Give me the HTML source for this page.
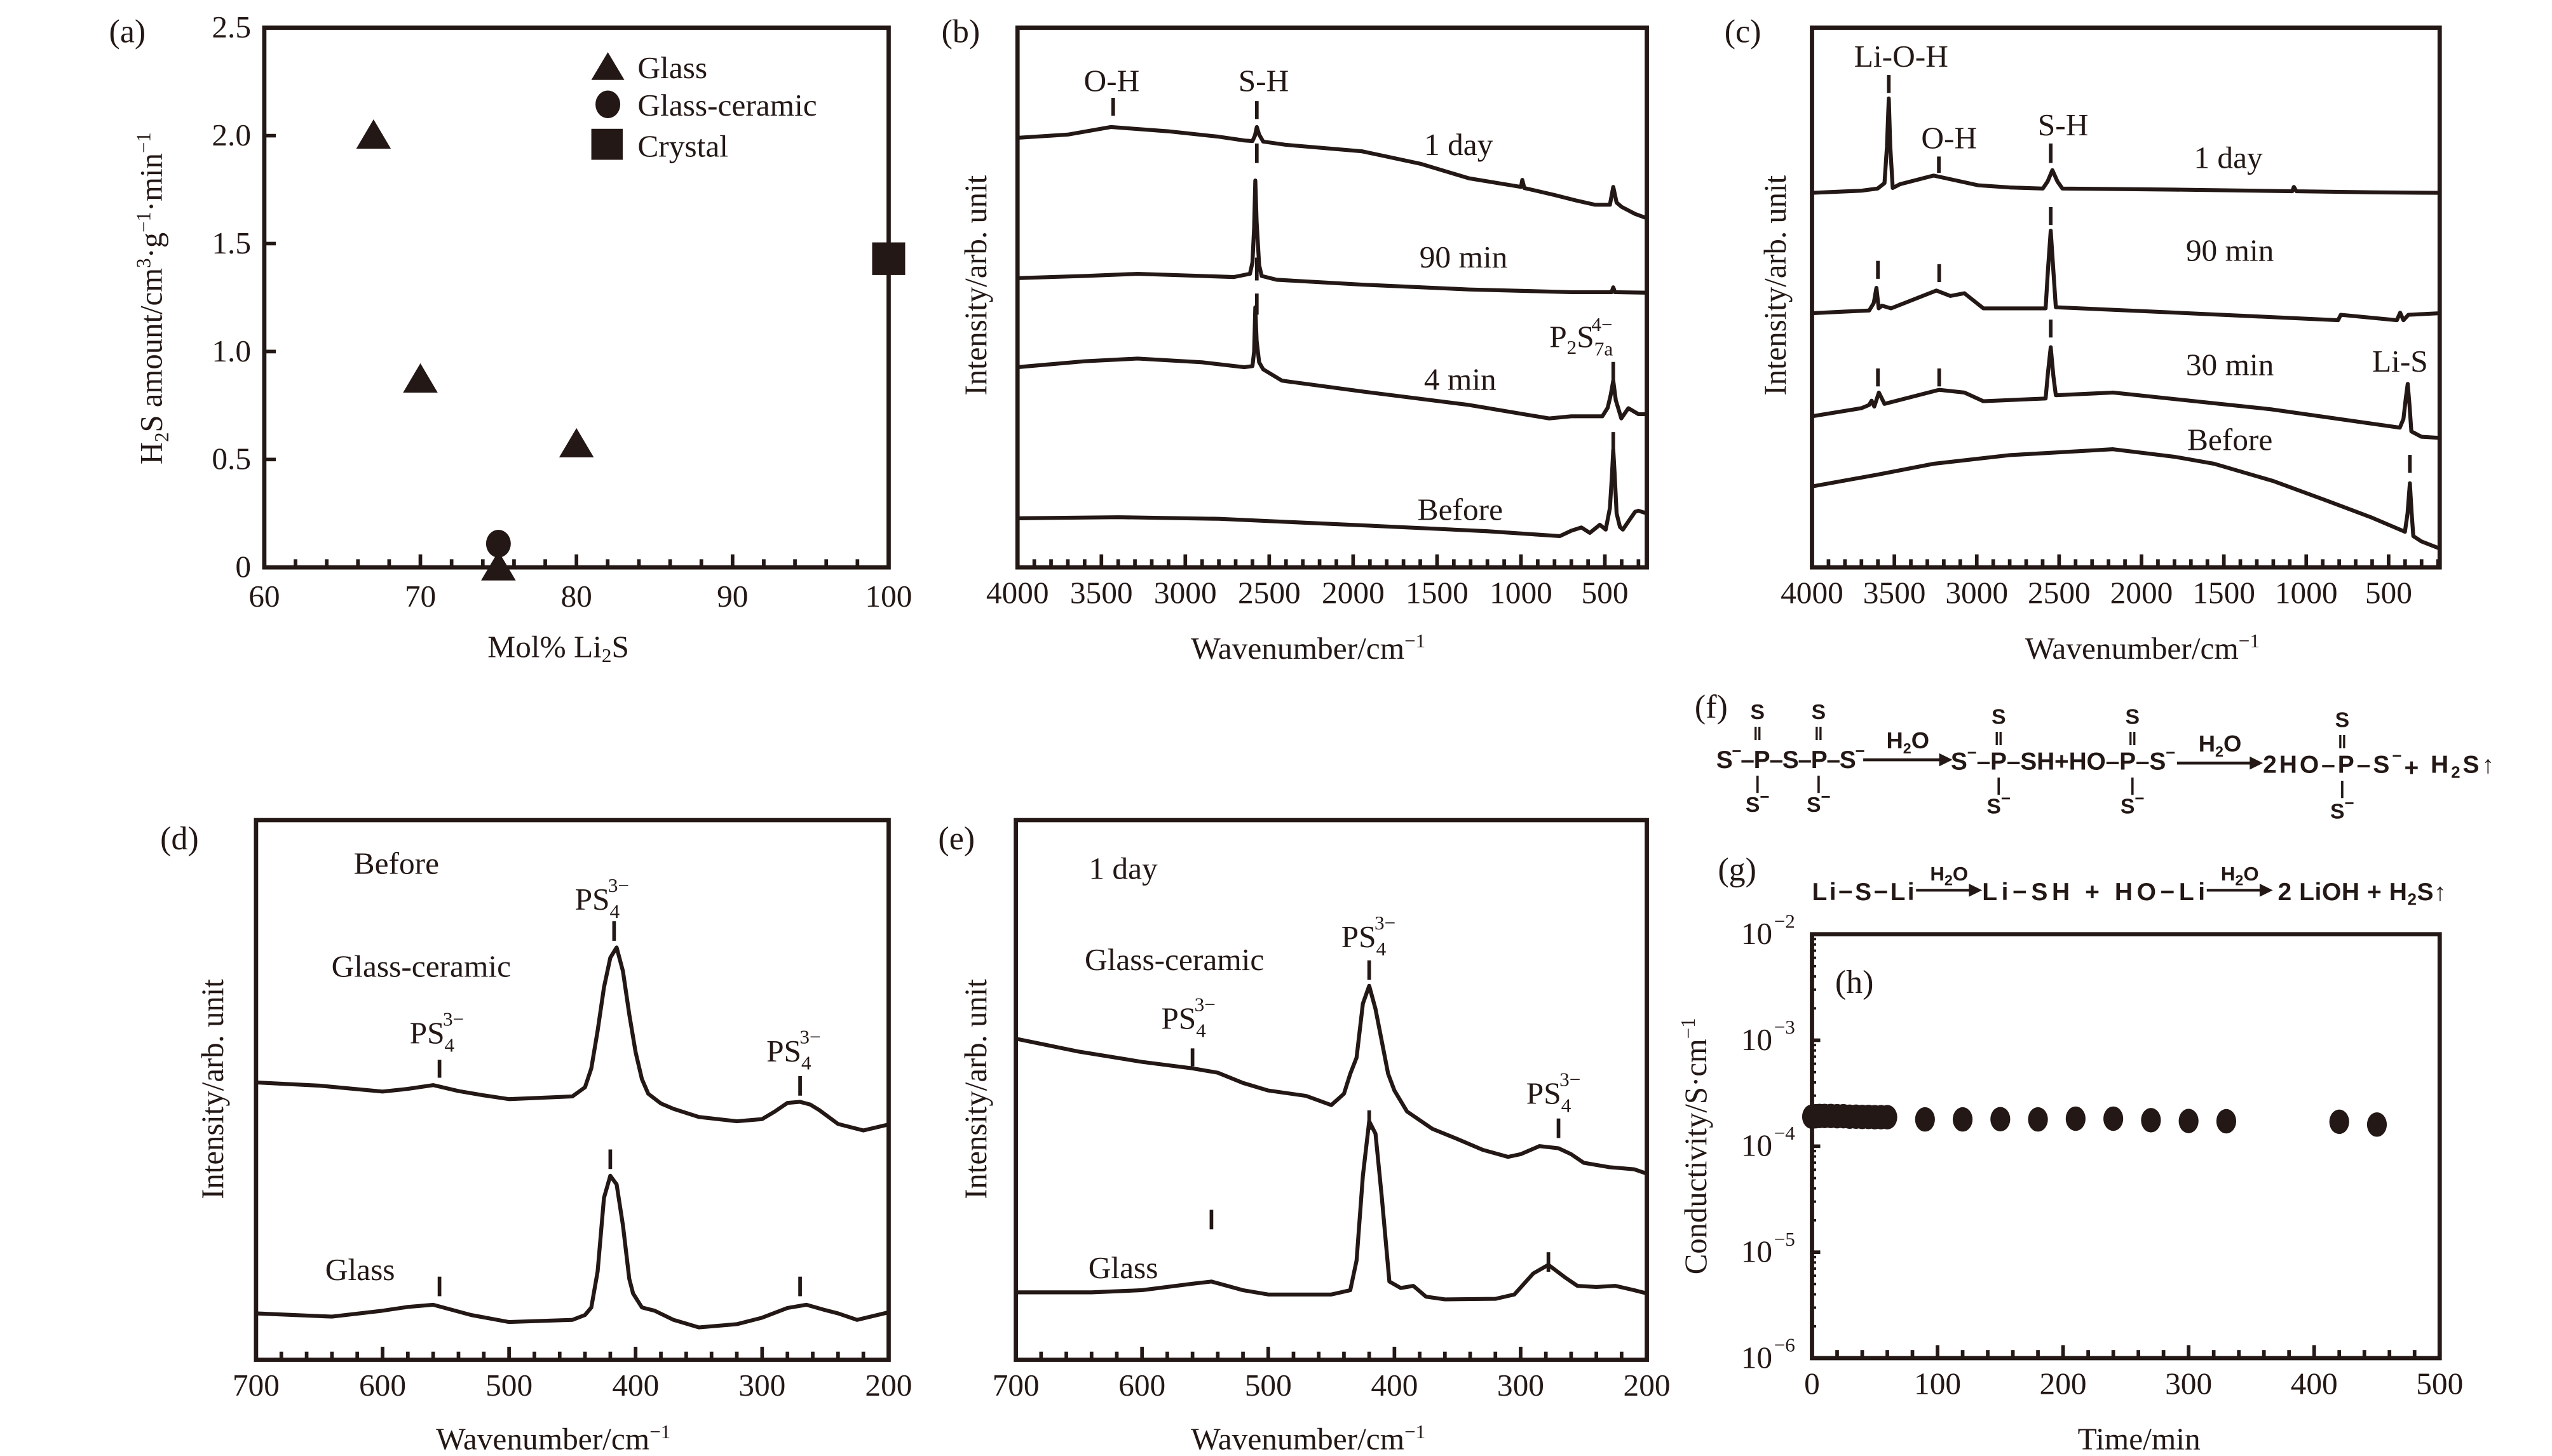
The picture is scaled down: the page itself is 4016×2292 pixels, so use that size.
<!DOCTYPE html>
<html><head><meta charset="utf-8">
<style>
html,body{margin:0;padding:0;background:#fff;}
svg{display:block;}
text{font-family:"Liberation Serif","DejaVu Serif",serif;fill:#231815;}
.sans{font-family:"Liberation Sans","DejaVu Sans",sans-serif;font-weight:bold;}
</style></head>
<body>
<svg id="fig" width="4016" height="2292" viewBox="0 0 1545 893" preserveAspectRatio="none" xmlns="http://www.w3.org/2000/svg">
<g id="root"></g>

<g font-size="19">
<text x="66" y="26" font-size="20">(a)</text>
<text transform="translate(98,183) rotate(-90)" text-anchor="middle">H<tspan font-size="12" dy="4">2</tspan><tspan dy="-4">S amount/cm</tspan><tspan font-size="12" dy="-7">3</tspan><tspan dy="7">·g</tspan><tspan font-size="12" dy="-7">−1</tspan><tspan dy="7">·min</tspan><tspan font-size="12" dy="-7">−1</tspan></text>
<text x="338" y="403" text-anchor="middle">Mol% Li<tspan font-size="12" dy="3">2</tspan><tspan dy="-3">S</tspan></text>
<text x="386" y="48">Glass</text>
<text x="386" y="71">Glass-ceramic</text>
<text x="386" y="96">Crystal</text>
</g>

<g font-size="19">
<text x="570" y="26" font-size="20">(b)</text>
<text transform="translate(597,175) rotate(-90)" text-anchor="middle">Intensity/arb. unit</text>
<text x="792" y="404" text-anchor="middle">Wavenumber/cm<tspan font-size="12" dy="-7">−1</tspan></text>
<text x="673" y="56" text-anchor="middle">O-H</text>
<text x="765" y="56" text-anchor="middle">S-H</text>
<text x="883" y="95" text-anchor="middle">1 day</text>
<text x="886" y="164" text-anchor="middle">90 min</text>
<text x="884" y="239" text-anchor="middle">4 min</text>
<text x="884" y="319" text-anchor="middle">Before</text>
<text x="938" y="213">P<tspan font-size="12" dy="4">2</tspan><tspan dy="-4">S</tspan><tspan font-size="12" dy="5">7a</tspan><tspan font-size="12" dx="-13" dy="-15">4−</tspan></text>
</g>

<g font-size="19">
<text x="1044" y="26" font-size="20">(c)</text>
<text transform="translate(1081,175) rotate(-90)" text-anchor="middle">Intensity/arb. unit</text>
<text x="1297" y="404" text-anchor="middle">Wavenumber/cm<tspan font-size="12" dy="-7">−1</tspan></text>
<text x="1151" y="41" text-anchor="middle">Li-O-H</text>
<text x="1180" y="91" text-anchor="middle">O-H</text>
<text x="1249" y="83" text-anchor="middle">S-H</text>
<text x="1349" y="103" text-anchor="middle">1 day</text>
<text x="1350" y="160" text-anchor="middle">90 min</text>
<text x="1350" y="230" text-anchor="middle">30 min</text>
<text x="1453" y="228" text-anchor="middle">Li-S</text>
<text x="1350" y="276" text-anchor="middle">Before</text>
</g>

<g font-size="19">
<text x="97" y="521" font-size="20">(d)</text>
<text transform="translate(135,668) rotate(-90)" text-anchor="middle">Intensity/arb. unit</text>
<text x="335" y="889" text-anchor="middle">Wavenumber/cm<tspan font-size="12" dy="-7">−1</tspan></text>
<text x="240" y="536" text-anchor="middle">Before</text>
<text x="255" y="599" text-anchor="middle">Glass-ceramic</text>
<text x="218" y="785" text-anchor="middle">Glass</text>
<text x="348" y="558">PS<tspan font-size="12" dy="5">4</tspan><tspan font-size="12" dx="-7" dy="-16">3−</tspan></text>
<text x="248" y="640">PS<tspan font-size="12" dy="5">4</tspan><tspan font-size="12" dx="-7" dy="-16">3−</tspan></text>
<text x="464" y="651">PS<tspan font-size="12" dy="5">4</tspan><tspan font-size="12" dx="-7" dy="-16">3−</tspan></text>
</g>

<g font-size="19">
<text x="568" y="521" font-size="20">(e)</text>
<text transform="translate(597,668) rotate(-90)" text-anchor="middle">Intensity/arb. unit</text>
<text x="792" y="889" text-anchor="middle">Wavenumber/cm<tspan font-size="12" dy="-7">−1</tspan></text>
<text x="680" y="539" text-anchor="middle">1 day</text>
<text x="711" y="595" text-anchor="middle">Glass-ceramic</text>
<text x="680" y="784" text-anchor="middle">Glass</text>
<text x="812" y="581">PS<tspan font-size="12" dy="5">4</tspan><tspan font-size="12" dx="-7" dy="-16">3−</tspan></text>
<text x="703" y="631">PS<tspan font-size="12" dy="5">4</tspan><tspan font-size="12" dx="-7" dy="-16">3−</tspan></text>
<text x="924" y="677">PS<tspan font-size="12" dy="5">4</tspan><tspan font-size="12" dx="-7" dy="-16">3−</tspan></text>
</g>

<g>
<text x="1026" y="440" font-size="20">(f)</text>
<text x="1064" y="441" text-anchor="middle" class="sans" font-size="13">S</text>
<text x="1101" y="441" text-anchor="middle" class="sans" font-size="13">S</text>
<text x="1064" y="454" text-anchor="middle" class="sans" font-size="11">‖</text>
<text x="1101" y="454" text-anchor="middle" class="sans" font-size="11">‖</text>
<text x="1039" y="471" class="sans" font-size="15" textLength="90">S<tspan font-size="10" dy="-7">−</tspan><tspan dy="7">–P–S–P–S</tspan><tspan font-size="10" dy="-7">−</tspan></text>
<text x="1064" y="484" text-anchor="middle" class="sans" font-size="11">|</text>
<text x="1101" y="484" text-anchor="middle" class="sans" font-size="11">|</text>
<text x="1064" y="498" text-anchor="middle" class="sans" font-size="13">S<tspan font-size="10" dy="-6">−</tspan></text>
<text x="1101" y="498" text-anchor="middle" class="sans" font-size="13">S<tspan font-size="10" dy="-6">−</tspan></text>
<text x="1155" y="459" text-anchor="middle" class="sans" font-size="14">H<tspan font-size="9" dy="3">2</tspan><tspan dy="-3">O</tspan></text>
<text x="1210" y="444" text-anchor="middle" class="sans" font-size="13">S</text>
<text x="1291" y="444" text-anchor="middle" class="sans" font-size="13">S</text>
<text x="1210" y="457" text-anchor="middle" class="sans" font-size="11">‖</text>
<text x="1291" y="457" text-anchor="middle" class="sans" font-size="11">‖</text>
<text x="1181" y="472" class="sans" font-size="15" textLength="136">S<tspan font-size="10" dy="-7">−</tspan><tspan dy="7">–P–SH+HO–P–S</tspan><tspan font-size="10" dy="-7">−</tspan></text>
<text x="1210" y="485" text-anchor="middle" class="sans" font-size="11">|</text>
<text x="1291" y="485" text-anchor="middle" class="sans" font-size="11">|</text>
<text x="1210" y="499" text-anchor="middle" class="sans" font-size="13">S<tspan font-size="10" dy="-6">−</tspan></text>
<text x="1291" y="499" text-anchor="middle" class="sans" font-size="13">S<tspan font-size="10" dy="-6">−</tspan></text>
<text x="1344" y="461" text-anchor="middle" class="sans" font-size="14">H<tspan font-size="9" dy="3">2</tspan><tspan dy="-3">O</tspan></text>
<text x="1418" y="446" text-anchor="middle" class="sans" font-size="13">S</text>
<text x="1418" y="459" text-anchor="middle" class="sans" font-size="11">‖</text>
<text x="1370" y="474" class="sans" font-size="15" textLength="140">2HO–P–S<tspan font-size="10" dy="-7">−</tspan><tspan dy="9">+ </tspan><tspan dy="-2">H</tspan><tspan font-size="10" dy="3">2</tspan><tspan dy="-3">S↑</tspan></text>
<text x="1418" y="487" text-anchor="middle" class="sans" font-size="11">|</text>
<text x="1418" y="502" text-anchor="middle" class="sans" font-size="13">S<tspan font-size="10" dy="-6">−</tspan></text>
<line x1="1128" y1="466" x2="1176" y2="466" stroke="#231815" stroke-width="1.8"/>
<polygon points="1182,466 1174,462 1174,470" fill="#231815"/>
<line x1="1318" y1="468" x2="1364" y2="468" stroke="#231815" stroke-width="1.8"/>
<polygon points="1370,468 1362,464 1362,472" fill="#231815"/>
</g>

<g>
<text x="1040" y="540" font-size="20">(g)</text>
<text x="1097" y="552" class="sans" font-size="15" textLength="62">Li−S−Li</text>
<text x="1180" y="540" text-anchor="middle" class="sans" font-size="12">H<tspan font-size="9" dy="3">2</tspan><tspan dy="-3">O</tspan></text>
<line x1="1160" y1="546" x2="1194" y2="546" stroke="#231815" stroke-width="1.7"/>
<polygon points="1200,546 1192,542 1192,550" fill="#231815"/>
<text x="1200" y="552" class="sans" font-size="15" textLength="135">Li−SH + HO−Li</text>
<text x="1356" y="540" text-anchor="middle" class="sans" font-size="12">H<tspan font-size="9" dy="3">2</tspan><tspan dy="-3">O</tspan></text>
<line x1="1336" y1="546" x2="1370" y2="546" stroke="#231815" stroke-width="1.7"/>
<polygon points="1376,546 1368,542 1368,550" fill="#231815"/>
<text x="1379" y="552" class="sans" font-size="15" textLength="102">2 LiOH + H<tspan font-size="10" dy="3">2</tspan><tspan dy="-3">S↑</tspan></text>
</g>

<g font-size="19">
<text x="1111" y="609" font-size="20">(h)</text>
<text transform="translate(1033,703) rotate(-90)" text-anchor="middle">Conductivity/S·cm<tspan font-size="12" dy="-7">−1</tspan></text>
<text x="1295" y="889" text-anchor="middle">Time/min</text>
</g>
</svg>

<script>
// ---------- DATA ----------
const aGlassX = [67, 70, 80, 75];
const aGlassY = [2.0, 0.87, 0.57, 0.0];
const aGCX = [75];
const aGCY = [0.11];
const aCrystalX = [100];
const aCrystalY = [1.43];
const aXTicks = [60, 70, 80, 90, 100];
const aYTicks = [0, 0.5, 1.0, 1.5, 2.0, 2.5];
const aYTickLabels = ["0", "0.5", "1.0", "1.5", "2.0", "2.5"];

const bDayW = [4000,3700,3443,3100,2800,2647,2600,2585,2574,2560,2536,2400,1947,1600,1310,1000,992,980,800,673,560,470,450,430,400,320,250];
const bDayI = [79.6,80.2,81.6,80.8,79.8,79.1,79.0,80.0,81.6,80.2,78.9,78.3,77.1,74.8,72.1,70.5,71.8,70.3,69.0,68.0,67.2,67.2,70.5,67.6,66.8,65.5,64.7];
const b90W = [4000,3600,3284,2900,2711,2615,2600,2590,2583,2575,2560,2545,2456,1947,1310,700,500,460,450,440,250];
const b90I = [53.6,54.0,54.4,54.0,53.8,54.4,56.5,63.0,71.7,64.0,56.0,54.0,53.3,52.4,51.5,51.0,51.0,51.0,51.9,51.0,50.9];
const b4W = [4000,3600,3284,2900,2647,2600,2590,2583,2575,2560,2536,2424,1947,1310,832,700,578,515,483,465,450,435,402,360,300,250];
const b4I = [37.1,38.2,38.7,38.0,37.1,37.3,40.0,48.2,42.0,38.0,36.7,34.6,32.6,30.1,27.6,28.0,28.0,28.0,29.6,32.0,34.6,31.0,27.6,29.5,28.4,28.4];
const bBefW = [4000,3400,2800,1947,1200,768,700,640,590,530,495,470,458,450,442,430,410,393,360,320,300,250];
const bBefI = [9.1,9.3,9.0,7.8,6.7,5.8,6.8,7.4,6.4,7.9,7.0,11.0,17.0,21.8,17.5,10.0,7.5,7.0,8.5,10.3,10.5,10.0];

const cDayW = [4000,3700,3602,3560,3545,3534,3525,3510,3466,3262,2990,2800,2599,2570,2541,2510,2480,1800,1085,1075,1060,600,190];
const cDayI = [69.4,69.8,70.2,71.2,78.0,86.9,78.0,70.3,71.0,72.6,70.8,70.4,70.2,71.5,73.6,71.5,70.2,70.0,69.7,70.5,69.7,69.5,69.4];
const c90W = [4000,3800,3653,3625,3609,3595,3575,3520,3245,3160,3075,2960,2582,2568,2551,2535,2520,2000,807,790,450,430,410,380,190];
const c90I = [47.1,47.4,47.6,49.0,51.8,48.0,48.5,48.0,51.3,50.3,50.8,48.0,48.0,55.0,62.4,55.0,48.2,47.5,45.8,46.8,45.8,47.2,45.8,46.8,47.1];
const c30W = [4000,3700,3653,3638,3622,3594,3560,3228,3075,2960,2582,2568,2551,2535,2520,2173,1214,432,410,395,384,373,362,300,190];
const c30I = [28.0,29.5,30.1,30.9,29.8,32.4,30.3,32.9,32.4,30.8,31.3,36.0,40.8,35.5,31.9,32.4,29.3,25.9,27.5,31.5,34.0,30.0,25.2,24.2,24.0];
const cBefW = [4000,3600,3262,2800,2173,1800,1559,1200,878,600,401,385,371,360,350,300,190];
const cBefI = [15.0,17.2,19.2,20.8,21.9,20.5,19.2,16.0,12.4,9.2,6.6,10.0,15.6,10.0,5.8,4.8,3.5];

const dGCW = [700,650,600,580,560,540,520,500,470,450,440,435,430,425,420,415,410,405,400,395,390,380,370,350,320,300,290,280,270,262,255,240,220,200];
const dGCI = [51.4,50.8,49.7,50.2,50.9,49.8,49.0,48.3,48.6,48.8,50.5,54.0,61.0,69.0,74.5,76.4,72.0,64.0,57.0,52.0,49.3,47.5,46.5,45.0,44.2,44.6,46.0,47.6,47.8,47.3,46.3,43.7,42.5,43.6];
const dGW = [700,640,600,580,560,530,500,450,440,435,430,425,420,415,410,405,402,395,385,370,350,320,300,280,265,250,240,225,200];
const dGI = [8.6,8.0,9.1,9.8,10.2,8.3,7.0,7.4,8.3,9.7,16.4,30.0,34.1,32.5,24.9,15.0,12.3,9.7,9.1,7.4,6.0,6.6,7.8,9.6,10.2,9.2,8.6,7.4,8.8];

const eGCW = [700,650,600,560,540,520,500,470,450,440,435,430,425,420,415,410,405,400,390,370,350,330,310,300,285,270,260,250,230,210,200];
const eGCI = [59.5,57.1,55.2,54.0,53.2,51.3,49.9,48.9,47.2,49.3,53.0,56.0,66.0,69.3,65.0,59.0,53.0,49.9,46.0,42.8,40.9,38.9,37.6,38.1,39.6,39.2,38.1,36.5,35.7,35.3,34.5];
const eGW = [700,640,600,560,545,520,500,450,435,430,425,420,415,410,404,395,385,375,360,320,305,290,278,265,255,240,225,210,200];
const eGI = [12.5,12.5,12.9,14.1,14.5,12.9,12.1,12.1,12.9,18.4,34.1,44.2,41.9,30.1,14.5,13.3,13.7,11.7,11.2,11.3,12.1,16.0,17.6,15.3,13.7,13.5,13.7,12.9,12.3];

const hTime = [0,3,6,10,15,20,25,30,35,40,45,50,55,60,90,120,150,180,210,240,270,300,330,420,450];
const hCond = [1.9e-4,1.92e-4,1.93e-4,1.93e-4,1.93e-4,1.92e-4,1.92e-4,1.9e-4,1.9e-4,1.89e-4,1.89e-4,1.88e-4,1.88e-4,1.88e-4,1.79e-4,1.79e-4,1.8e-4,1.79e-4,1.82e-4,1.82e-4,1.76e-4,1.73e-4,1.72e-4,1.7e-4,1.6e-4];
const hXTicks = [0,100,200,300,400,500];
const hYExp = [-6,-5,-4,-3,-2];

// ---------- DRAWING ----------
const NS = "http://www.w3.org/2000/svg";
const root = document.getElementById('root');
const INK = "#231815";
function mk(tag, attrs, parent){
  const e = document.createElementNS(NS, tag);
  for (const k in attrs) e.setAttribute(k, attrs[k]);
  (parent || root).appendChild(e);
  return e;
}
function lin(d0,d1,r0,r1){ return v => r0 + (v-d0)/(d1-d0)*(r1-r0); }
function frame(x0,y0,x1,y1,name){
  const r = mk('rect',{x:x0,y:y0,width:x1-x0,height:y1-y0,fill:'none',stroke:INK,'stroke-width':2.6});
  
  
}
function tick(x1,y1,x2,y2,w){
  const l = mk('line',{x1:x1,y1:y1,x2:x2,y2:y2,stroke:INK,'stroke-width':w||2.2});
  
  
}
function label(x,y,txt,anchor,size){
  const t = mk('text',{x:x,y:y,'text-anchor':anchor||'middle','font-size':size||19});
  t.textContent = txt;
  
  
  return t;
}
function curve(W,I,sx,sy,name){
  const pts = W.map((w,i)=> sx(w).toFixed(2)+','+sy(I[i]).toFixed(2)).join(' ');
  const p = mk('polyline',{points:pts,fill:'none',stroke:INK,'stroke-width':2.4,'stroke-linejoin':'round'});
  
  
}
function dash(x,y1,y2,name){
  const l = mk('line',{x1:x,y1:y1,x2:x,y2:y2,stroke:INK,'stroke-width':2.2});
  
  
}

// Panel (a)
(function(){
  const X0=160,X1=538,Y0=17,Y1=348;
  const sx = lin(60,100,X0,X1), sy = lin(0,2.5,Y1,Y0);
  frame(X0,Y0,X1,Y1,'panel-a-frame');
  for(let v=62; v<100; v+=2){ tick(sx(v),Y1,sx(v),Y1-(v%10===0?8:5)); }
  aXTicks.forEach(v=>label(sx(v),Y1+24,String(v)));
  aYTicks.forEach((v,i)=>{ tick(X0,sy(v),X0+7,sy(v)); label(X0-8,sy(v)+6,aYTickLabels[i],'end'); });
  aGlassX.forEach((x,i)=>{
    const cx=sx(x), cy=sy(aGlassY[i]);
    const p = mk('polygon',{points:`${cx},${cy-10} ${cx-10.5},${cy+8} ${cx+10.5},${cy+8}`,fill:INK});
    
    
  });
  aGCX.forEach((x,i)=>{
    const c = mk('ellipse',{cx:sx(x),cy:sy(aGCY[i]),rx:7.5,ry:8.5,fill:INK});
    
    
  });
  aCrystalX.forEach((x,i)=>{
    const r = mk('rect',{x:sx(x)-10,y:sy(aCrystalY[i])-10,width:20,height:20,fill:INK});
    
    
  });
  const lt = mk('polygon',{points:'368,32 358,49 378,49',fill:INK});
  
  
  const lc = mk('ellipse',{cx:368,cy:64,rx:7.5,ry:8.5,fill:INK});
  
  
  const ls = mk('rect',{x:358,y:79,width:19,height:19,fill:INK});
  
  
})();

function irAxes(X0,X1,wEnd,name){
  const Y0=17,Y1=348;
  const sx = lin(4000,wEnd,X0,X1), sy = lin(0,100,Y1,Y0);
  frame(X0,Y0,X1,Y1,name+'-frame');
  for(let v=3900; v>wEnd; v-=100){ tick(sx(v),Y1,sx(v),Y1-(v%500===0?8:5)); }
  for(let v=4000; v>=500; v-=500){ label(sx(v),Y1+22,String(v)); }
  return {sx,sy};
}
(function(){
  const {sx,sy} = irAxes(616,997,250,'panel-b');
  curve(bDayW,bDayI,sx,sy,'curve-b-1day');
  curve(b90W,b90I,sx,sy,'curve-b-90min');
  curve(b4W,b4I,sx,sy,'curve-b-4min');
  curve(bBefW,bBefI,sx,sy,'curve-b-before');
  dash(sx(3430),60,71,'dash-oh');
  dash(sx(2574),62,73,'dash-sh-1'); dash(sx(2574),88,100,'dash-sh-2');
  dash(sx(2574),158,172,'dash-sh-3'); dash(sx(2574),180,193,'dash-sh-4');
  dash(sx(450),222,236,'dash-p2s7-1'); dash(sx(450),265,278,'dash-p2s7-2');
})();
(function(){
  const {sx,sy} = irAxes(1097,1477,190,'panel-c');
  curve(cDayW,cDayI,sx,sy,'curve-c-1day');
  curve(c90W,c90I,sx,sy,'curve-c-90min');
  curve(c30W,c30I,sx,sy,'curve-c-30min');
  curve(cBefW,cBefI,sx,sy,'curve-c-before');
  dash(sx(3534),46,57,'dash-lioh');
  dash(sx(3230),96,106,'dash-oh-c');
  dash(sx(2551),88,100,'dash-sh-c1'); dash(sx(2551),127,138,'dash-sh-c2'); dash(sx(2551),196,207,'dash-sh-c3');
  dash(sx(3600),160,171,'dash-lioh-90'); dash(sx(3228),162,173,'dash-oh-90');
  dash(sx(3600),226,237,'dash-lioh-30'); dash(sx(3228),226,237,'dash-oh-30');
  dash(sx(371),279,290,'dash-lis');
})();
function ramanAxes(X0,X1,name){
  const Y0=503,Y1=834;
  const sx = lin(700,200,X0,X1), sy = lin(0,100,Y1,Y0);
  frame(X0,Y0,X1,Y1,name+'-frame');
  for(let v=680; v>200; v-=20){ tick(sx(v),Y1,sx(v),Y1-(v%100===0?8:5)); }
  for(let v=700; v>=200; v-=100){ label(sx(v),Y1+22,String(v)); }
  return {sx,sy};
}
(function(){
  const {sx,sy} = ramanAxes(155,538,'panel-d');
  curve(dGCW,dGCI,sx,sy,'curve-d-glass-ceramic');
  curve(dGW,dGI,sx,sy,'curve-d-glass');
  dash(sx(417),565,577,'dash-d-1'); dash(sx(555),650,661,'dash-d-2'); dash(sx(270),660,672,'dash-d-3');
  dash(sx(420),705,717,'dash-d-4'); dash(sx(555),783,795,'dash-d-5'); dash(sx(270),783,795,'dash-d-6');
})();
(function(){
  const {sx,sy} = ramanAxes(615,997,'panel-e');
  curve(eGCW,eGCI,sx,sy,'curve-e-glass-ceramic');
  curve(eGW,eGI,sx,sy,'curve-e-glass');
  dash(sx(420),589,601,'dash-e-1'); dash(sx(560),643,654,'dash-e-2'); dash(sx(270),686,698,'dash-e-3');
  dash(sx(420),681,693,'dash-e-4'); dash(sx(545),742,754,'dash-e-5'); dash(sx(278),768,780,'dash-e-6');
})();
(function(){
  const X0=1097,X1=1477,Y0=573,Y1=833;
  const sx = lin(0,500,X0,X1), sy = lin(-6,-2,Y1,Y0);
  frame(X0,Y0,X1,Y1,'panel-h-frame');
  for(let v=20; v<500; v+=20){ tick(sx(v),Y1,sx(v),Y1-(v%100===0?8:5)); }
  hXTicks.forEach(v=>label(sx(v),Y1+22,String(v)));
  hYExp.forEach(e=>{
    tick(X0,sy(e),X0+5,sy(e));
    if(e<-2){ for(let m=2;m<10;m++){ const yy=sy(e+Math.log10(m)); tick(X0,yy,X0+2.5,yy,1.5); } }
    label(1073,sy(e)+6,'10','end');
    label(1074,sy(e)-4,'−'+Math.abs(e),'start',12);
  });
  hTime.forEach((t,i)=>{
    const c = mk('ellipse',{cx:sx(t),cy:sy(Math.log10(hCond[i])),rx:6,ry:7.5,fill:INK});
    
    
  });
})();
</script>
</body></html>
